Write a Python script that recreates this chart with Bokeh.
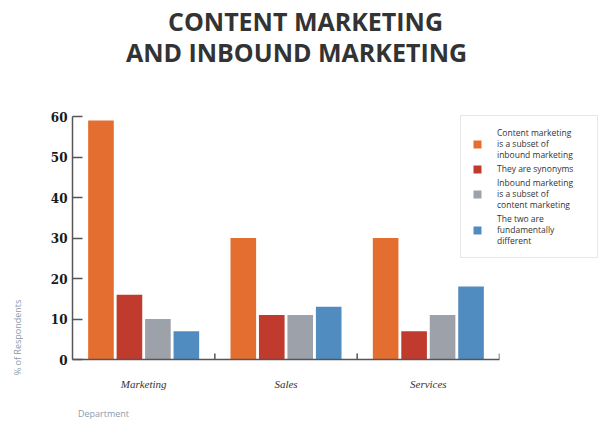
from bokeh.plotting import figure
from bokeh.models import FactorRange, Range1d, Legend, LegendItem, ColumnDataSource, Label, Column
from bokeh.layouts import column
from bokeh.transform import dodge
from bokeh.embed import file_html
from bokeh.resources import INLINE

departments = ["Marketing", "Sales", "Services"]
series_names = [
    "Content marketing\nis a subset of\ninbound marketing",
    "They are synonyms",
    "Inbound marketing\nis a subset of\ncontent marketing",
    "The two are\nfundamentally\ndifferent",
]
subset_of_inbound = [59, 30, 30]
synonyms = [16, 11, 7]
subset_of_content = [10, 11, 11]
fundamentally_different = [7, 13, 18]
y_ticks = [0, 10, 20, 30, 40, 50, 60]
colors = ["#E46D30", "#C03A2D", "#9DA2AA", "#508CBF"]
offsets = [-0.3, -0.1, 0.1, 0.3]

src = ColumnDataSource(dict(
    dept=departments,
    s0=subset_of_inbound,
    s1=synonyms,
    s2=subset_of_content,
    s3=fundamentally_different,
    zero=[0] * len(departments),
    tick=[1.5] * len(departments),
))

W, H = 600, 422
FL, FT, FR, FB = 72, 116, 499, 359  # frame edges in page px
p = figure(
    x_range=FactorRange(*departments), y_range=Range1d(0, 60), title=None,
    width=W, height=H, output_backend="svg", toolbar_location=None,
    min_border_left=FL, min_border_right=W - FR, min_border_top=FT, min_border_bottom=H - FB,
)
p.outline_line_color = None
p.xgrid.visible = False
p.ygrid.visible = False

renderers = []
for i, col in enumerate(["s0", "s1", "s2", "s3"]):
    r = p.vbar(x=dodge("dept", offsets[i], range=p.x_range), top=col, width=0.18,
               source=src, fill_color=colors[i], line_color=None)
    renderers.append(r)

p.segment(x0=dodge("dept", 0.5, range=p.x_range), x1=dodge("dept", 0.5, range=p.x_range),
          y0="zero", y1="tick", source=src, line_color="#555555", line_width=1.5)

p.yaxis.ticker = y_ticks
p.yaxis.minor_tick_line_color = None
p.yaxis.major_tick_in = 10
p.yaxis.major_tick_out = 0
p.yaxis.major_tick_line_color = "#555555"
p.yaxis.major_tick_line_width = 1.5
p.yaxis.axis_line_color = "#555555"
p.yaxis.axis_line_width = 1.5
p.yaxis.major_label_standoff = 5
p.yaxis.major_label_text_font = "DejaVu Serif"
p.yaxis.major_label_text_font_style = "bold"
p.yaxis.major_label_text_font_size = "12px"
p.yaxis.major_label_text_color = "#1a1a1a"

p.xaxis.major_tick_line_color = None
p.xaxis.major_tick_out = 0
p.xaxis.major_tick_in = 0
p.xaxis.axis_line_color = "#555555"
p.xaxis.axis_line_width = 1.5
p.xaxis.major_label_standoff = 18
p.xaxis.major_label_text_font = "Liberation Serif"
p.xaxis.major_label_text_font_style = "italic"
p.xaxis.major_label_text_font_size = "11px"
p.xaxis.major_label_text_color = "#333333"

# transparent overlay figure covering the whole page, for texts and the legend outside the frame
ov = figure(width=W, height=H, output_backend="svg", toolbar_location=None, title=None,
            x_axis_type=None, y_axis_type=None, x_range=Range1d(0, 1), y_range=Range1d(0, 1),
            min_border=0)
ov.outline_line_color = None
ov.background_fill_alpha = 0
ov.border_fill_alpha = 0
ov.grid.visible = False
# legend swatch renderers (their single bar lies outside the overlay's range)
ov_renderers = [ov.vbar(x=[5], top=[5], width=0.1, fill_color=c, line_color=None) for c in colors]


def sx(px):
    return px


def sy(py):
    return H - py


legend = Legend(
    items=[LegendItem(label=series_names[i], renderers=[ov_renderers[i]]) for i in range(4)],
    location=(sx(460), sy(258)), glyph_width=10, glyph_height=10,
    label_text_font="Open Sans", label_text_font_size="8.5px", label_text_color="#333333",
    label_text_line_height=0.75, label_standoff=15, label_width=89, spacing=3, padding=11, margin=0,
    border_line_color="#d0d0d0", border_line_width=1, background_fill_color="white",
)
ov.add_layout(legend)

ov.add_layout(Label(x=sx(305), y=sy(20), x_units="screen", y_units="screen", text="CONTENT MARKETING",
                    text_align="center", text_baseline="alphabetic", text_font="Open Sans",
                    text_font_style="bold", text_font_size="25px", text_color="#333333"))
ov.add_layout(Label(x=sx(296), y=sy(51.5), x_units="screen", y_units="screen", text="AND INBOUND MARKETING",
                    text_align="center", text_baseline="alphabetic", text_font="Open Sans",
                    text_font_style="bold", text_font_size="25px", text_color="#333333"))
ov.add_layout(Label(x=sx(17), y=sy(337), x_units="screen", y_units="screen", text="% of Respondents",
                    angle=1.5708, text_align="center", text_baseline="middle", text_font="Open Sans",
                    text_font_size="9px", text_color="#8A9BAD"))
ov.add_layout(Label(x=sx(103), y=sy(413), x_units="screen", y_units="screen", text="Department",
                    text_align="center", text_baseline="middle", text_font="Open Sans",
                    text_font_size="9px", text_color="#8A9BAD"))

wrapper = Column(children=[ov], styles={"position": "absolute", "left": "0px", "top": "0px"})
layout = column(p, wrapper)
open("out.html", "w").write(file_html(layout, INLINE))
